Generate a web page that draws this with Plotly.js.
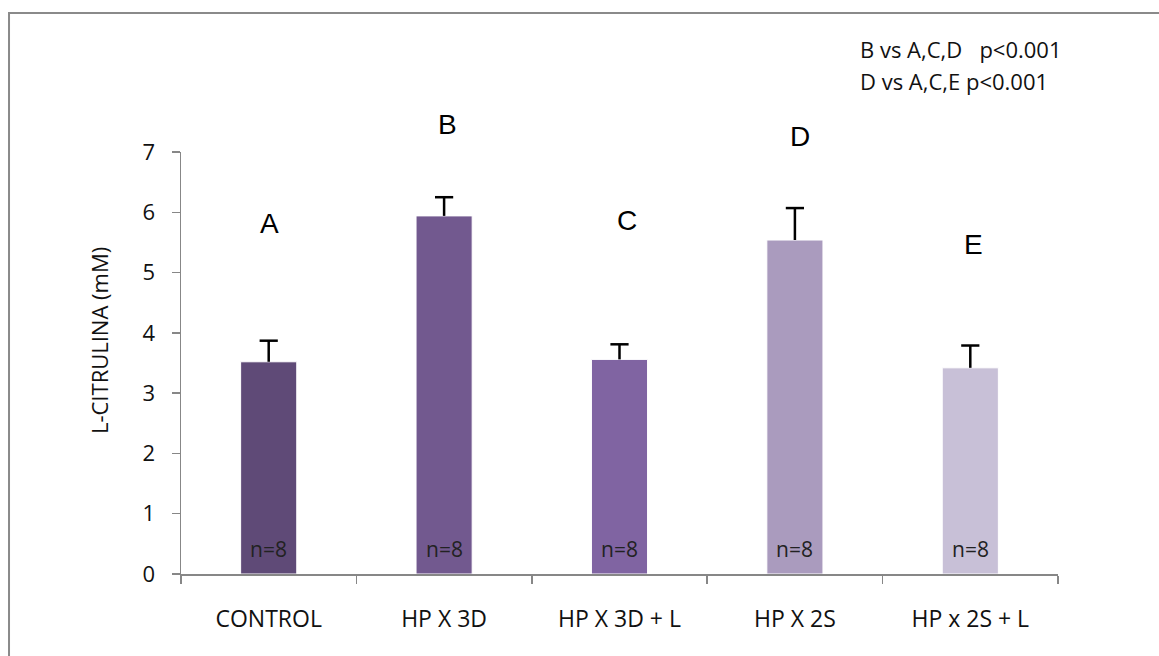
<!DOCTYPE html>
<html>
<head>
<meta charset="utf-8">
<script src="https://cdn.plot.ly/plotly-3.0.1.min.js"></script>
<style>
html,body{margin:0;padding:0;background:#fff;}
#chart{width:1159px;height:656px;}
</style>
</head>
<body>
<div id="chart"></div>
<script>
// ---- data ----
const categories = ["CONTROL", "HP X 3D", "HP X 3D + L", "HP X 2S", "HP x 2S + L"];
const means = [3.52, 5.94, 3.56, 5.54, 3.42];
const errUp = [0.35, 0.31, 0.25, 0.53, 0.37];
const groupLetters = ["A", "B", "C", "D", "E"];
const nLabels = ["n=8", "n=8", "n=8", "n=8", "n=8"];
const statLines = ["B vs A,C,D\u00A0\u00A0 p<0.001", "D vs A,C,E p<0.001"];
const yTicks = [0, 1, 2, 3, 4, 5, 6, 7];

// ---- styles ----
const barColors = ["#5f4a77", "#72598f", "#8064a2", "#aa9bbe", "#c8c0d7"];
const letterY = [5.81, 7.45, 5.87, 7.25, 5.46];
const letterShift = [1, 3, 7, 5, 3];
const textFont = "Open Sans, sans-serif";
const Y_MAX = 7;

const bars = {
  type: "bar",
  x: categories,
  y: means,
  width: 0.32,
  marker: { color: barColors, line: { color: "#ffffff", width: 1 } },
  hoverinfo: "skip"
};

// upper-only error bars: stem via error_y (no caps), cap via line marker
const errTops = means.map((m, i) => m + errUp[i]);
const errBars = {
  type: "scatter", mode: "markers",
  x: categories, y: errTops,
  marker: { symbol: "line-ew-open", size: 13, color: "#000", line: { color: "#000", width: 2.5 } },
  error_y: {
    type: "data", symmetric: false, array: errUp.map(() => 0), arrayminus: errUp,
    color: "#000000", thickness: 2.5, width: 0
  },
  cliponaxis: false,
  hoverinfo: "skip"
};

const annotations = [];
categories.forEach((c, i) => {
  annotations.push({
    x: c, y: letterY[i] / Y_MAX, xref: "x", yref: "paper", text: groupLetters[i],
    showarrow: false, xshift: letterShift[i], yanchor: "middle",
    font: { family: "Liberation Sans, Arial, sans-serif", size: 28, color: "#000" }
  });
  annotations.push({
    x: c, y: 0.42, xref: "x", yref: "y", text: nLabels[i],
    showarrow: false,
    font: { family: textFont, size: 21, color: "#222" }
  });
});
statLines.forEach((t, i) => {
  annotations.push({
    x: 0.772, y: i === 0 ? 1.244 : 1.168, xref: "paper", yref: "paper",
    xanchor: "left", yanchor: "middle", text: t, showarrow: false,
    font: { family: textFont, size: 22, color: "#111" }
  });
});
annotations.push({
  x: -0.0935, y: 0.552, xref: "paper", yref: "paper", xanchor: "center", yanchor: "middle",
  text: "L-CITRULINA (mM)", textangle: -90, showarrow: false,
  font: { family: textFont, size: 22, color: "#111" }
});

const layout = {
  width: 1159, height: 656,
  margin: { l: 181, r: 101, t: 152, b: 82 },
  paper_bgcolor: "#ffffff", plot_bgcolor: "#ffffff",
  showlegend: false,
  xaxis: {
    type: "category", showgrid: false, zeroline: false,
    showline: true, linecolor: "#878787", linewidth: 1.5,
    ticks: "outside", tickson: "boundaries", ticklen: 8, tickcolor: "#878787", tickwidth: 1.5,
    ticklabelstandoff: 24,
    tickfont: { family: textFont, size: 23, color: "#111" },
    fixedrange: true
  },
  yaxis: {
    range: [0, Y_MAX], tickvals: yTicks, ticktext: yTicks.map(String),
    showgrid: false, zeroline: false,
    showline: true, linecolor: "#878787", linewidth: 1.5,
    ticks: "outside", ticklen: 8, tickcolor: "#878787", tickwidth: 1.5,
    ticklabelstandoff: 12,
    tickfont: { family: textFont, size: 22, color: "#111" },
    fixedrange: true
  },
  shapes: [{
    type: "rect", xref: "paper", yref: "paper",
    x0: -0.1961, x1: 1.3, y0: -0.6, y1: 1.3294,
    line: { color: "#8a8a8a", width: 2 }, fillcolor: "rgba(0,0,0,0)", layer: "below"
  }],
  annotations: annotations
};

Plotly.newPlot("chart", [bars, errBars], layout, { displayModeBar: false, staticPlot: true });
</script>
</body>
</html>
